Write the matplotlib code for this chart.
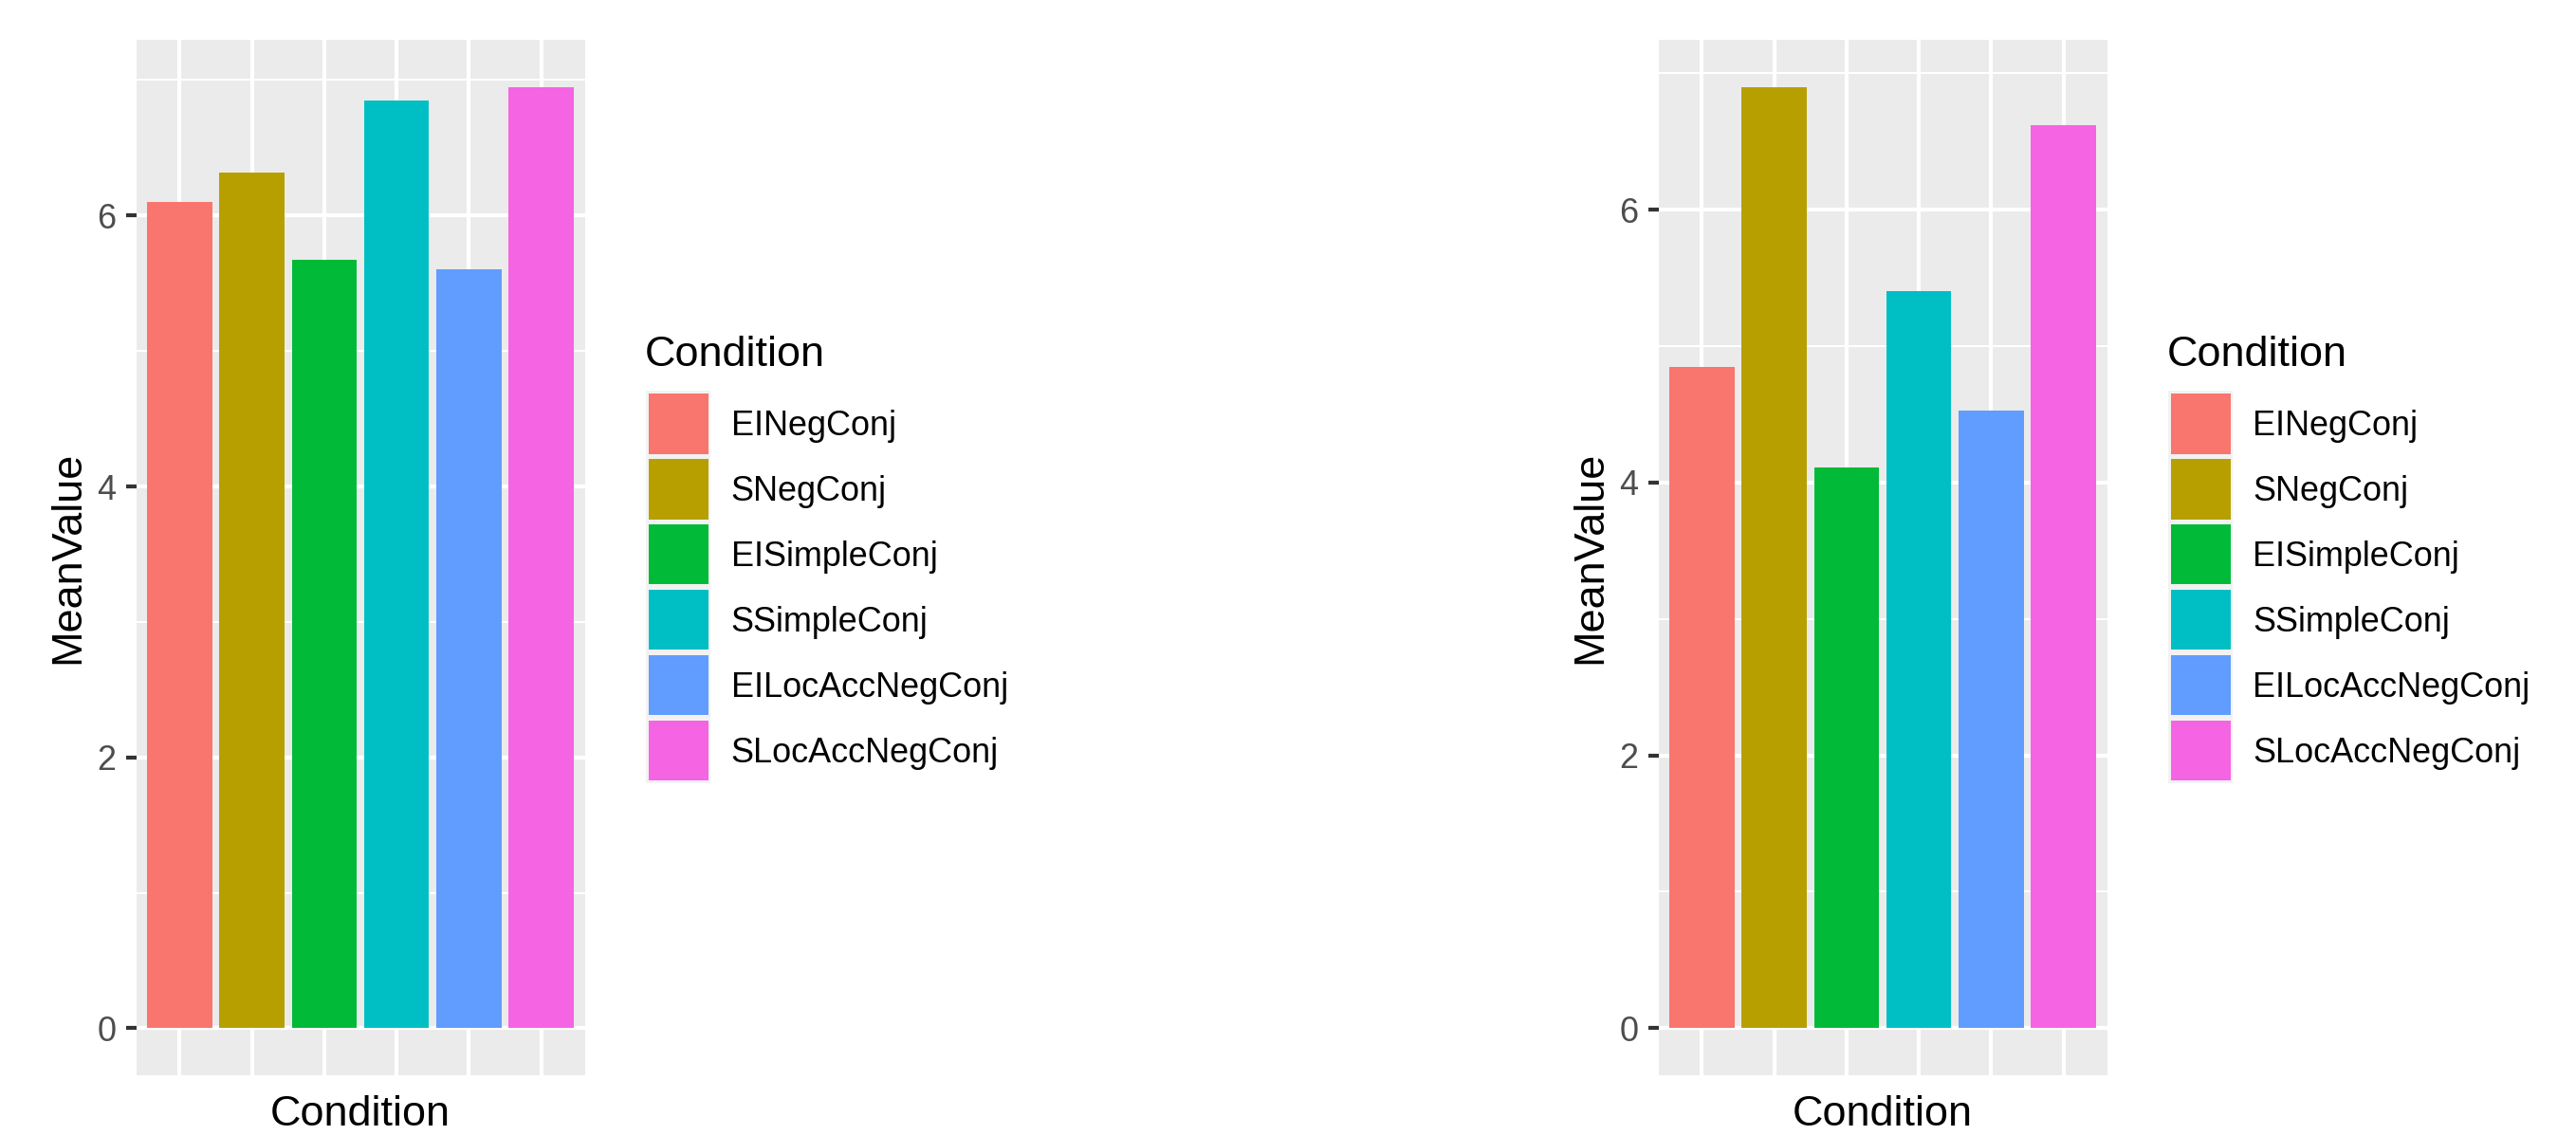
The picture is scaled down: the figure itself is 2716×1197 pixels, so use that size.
import matplotlib
matplotlib.use("Agg")
import matplotlib.pyplot as plt
from matplotlib.patches import Rectangle
from matplotlib.ticker import MultipleLocator

plt.rcParams['font.family'] = ['Liberation Sans', 'DejaVu Sans']

# ---- data ----
conditions = ["EINegConj", "SNegConj", "EISimpleConj", "SSimpleConj",
              "EILocAccNegConj", "SLocAccNegConj"]
mean_left = [6.10, 6.32, 5.67, 6.85, 5.60, 6.95]
mean_right = [4.85, 6.90, 4.11, 5.40, 4.53, 6.62]
colors = ["#F8766D", "#B79F00", "#00BA38", "#00BFC4", "#619CFF", "#F564E3"]
y_ticks = [0, 2, 4, 6]
x_title = "Condition"
y_title = "MeanValue"
legend_title = "Condition"

W, H, DPI = 2716, 1197, 300
fig = plt.figure(figsize=(W / DPI, H / DPI), dpi=DPI)

TITLE_FS = 10.8
TEXT_FS = 8.65

panel_left = [143.5, 1748.5]
panel_w = 473.0
panel_top, panel_bot = 42.0, 1134.0
panel_h = panel_bot - panel_top

grid_major = 1.0
grid_minor = 0.5

overlay = fig.add_axes([0, 0, 1, 1], zorder=10)
overlay.set_xlim(0, W)
overlay.set_ylim(H, 0)
overlay.axis("off")
overlay.patch.set_alpha(0)

for k, vals in enumerate([mean_left, mean_right]):
    x0 = panel_left[k]
    ax = fig.add_axes([x0 / W, (H - panel_bot) / H, panel_w / W, panel_h / H])
    ax.set_facecolor("#EBEBEB")
    xs = list(range(1, len(conditions) + 1))
    ax.bar(xs, vals, width=0.9, color=colors, zorder=3, linewidth=0)
    ax.set_xlim(0.4, len(conditions) + 0.6)
    top = max(vals)
    ax.set_ylim(-0.05 * top, top * 1.05)
    ax.set_yticks(y_ticks)
    ax.set_yticklabels([str(t) for t in y_ticks])
    ax.yaxis.set_minor_locator(MultipleLocator(1))
    ax.set_xticks(xs)
    ax.set_xticklabels([])
    ax.tick_params(axis="x", length=0)
    ax.tick_params(axis="y", which="major", length=11.0 * 72 / DPI, width=grid_major,
                   color="#333333", labelsize=TEXT_FS, labelcolor="#4D4D4D", pad=2.4)
    ax.tick_params(axis="y", which="minor", length=0)
    ax.grid(True, which="major", color="white", linewidth=grid_major, zorder=1)
    ax.grid(True, which="minor", axis="y", color="white", linewidth=grid_minor, zorder=1)
    ax.set_axisbelow(True)
    for s in ax.spines.values():
        s.set_visible(False)
    ax.set_xlabel(x_title, fontsize=TITLE_FS, color="black", va="baseline")
    ax.xaxis.set_label_coords(0.5, -(1187 - panel_bot) / panel_h)
    ax.set_ylabel(y_title, fontsize=TITLE_FS, color="black", va="baseline")
    ax.yaxis.set_label_coords(-(143.5 - 83.5) / panel_w, 0.5)

    # legend
    off = x0 - 143.5
    overlay.text(679.5 + off, 386.0, legend_title, fontsize=TITLE_FS, color="black",
                 ha="left", va="baseline")
    key_step = 68.9
    key_top = 412.3
    overlay.add_patch(Rectangle((680.7 + off, key_top), 68.6, key_step * len(conditions),
                                facecolor="#F2F2F2", edgecolor="none"))
    for i, (name, c) in enumerate(zip(conditions, colors)):
        ky = key_top + 2.7 + key_step * i
        overlay.add_patch(Rectangle((683.7 + off, ky), 63.4, 63.6,
                                    facecolor=c, edgecolor="none"))
        overlay.text(770.5 + off, ky + 31.8 + 12.3, name, fontsize=TEXT_FS,
                     color="black", ha="left", va="baseline")

fig.savefig("out.png", dpi=DPI, facecolor="white")
